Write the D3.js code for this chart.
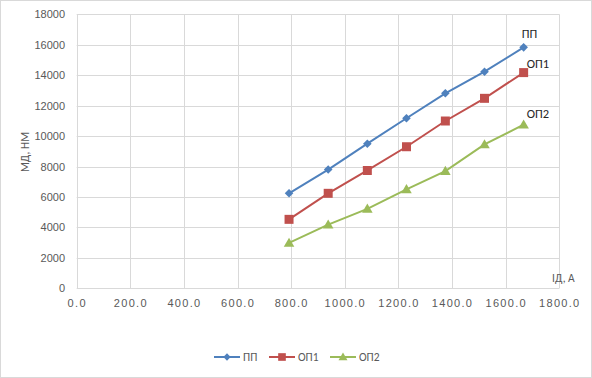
<!DOCTYPE html>
<html><head><meta charset="utf-8">
<script src="https://cdn.jsdelivr.net/npm/d3@7"></script>
<style>body{margin:0;background:#fff}svg{display:block;font-family:Calibri,"Liberation Sans","DejaVu Sans",sans-serif}</style>
</head><body>
<script>
const xValues = [792, 938, 1084, 1230, 1375, 1521, 1667];
const seriesNames = ["ПП", "ОП1", "ОП2"];
const ppValues = [6240, 7800, 9500, 11170, 12810, 14230, 15830];
const op1Values = [4530, 6240, 7740, 9300, 10990, 12480, 14170];
const op2Values = [2980, 4180, 5220, 6500, 7700, 9450, 10750];
const xTicks = [0, 200, 400, 600, 800, 1000, 1200, 1400, 1600, 1800];
const yTicks = [0, 2000, 4000, 6000, 8000, 10000, 12000, 14000, 16000, 18000];
const colors = ["#4F81BD", "#C0504D", "#9BBB59"];

const W = 592, H = 378;
const svg = d3.select("body").append("svg").attr("width", W).attr("height", H);
svg.append("rect").attr("x", 0.5).attr("y", 0.5).attr("width", W - 1).attr("height", H - 1)
  .attr("fill", "#fff").attr("stroke", "#D9D9D9");

const x = d3.scaleLinear().domain([0, 1800]).range([76.7, 559.3]);
const y = d3.scaleLinear().domain([0, 18000]).range([288.3, 14.3]);

// custom marker paths (half-size r)
function markerPath(si, r) {
  if (si === 0) return `M0,${-r}L${r},0L0,${r}L${-r},0Z`;
  if (si === 1) return `M${-r},${-r}H${r}V${r}H${-r}Z`;
  return `M0,${-r * 1.1}L${r * 1.1},${r * 0.8}L${-r * 1.1},${r * 0.8}Z`;
}
const mr = [4.3, 4.5, 4.8];

const g = svg.append("g");
g.selectAll(".vg").data(xTicks).join("line")
  .attr("x1", d => Math.round(x(d)) + 0.5).attr("x2", d => Math.round(x(d)) + 0.5)
  .attr("y1", y(18000)).attr("y2", y(0)).attr("stroke", "#D9D9D9");
g.selectAll(".hg").data(yTicks).join("line")
  .attr("y1", d => Math.round(y(d)) + 0.5).attr("y2", d => Math.round(y(d)) + 0.5)
  .attr("x1", x(0)).attr("x2", x(1800)).attr("stroke", "#D9D9D9");

const xAxis = d3.axisBottom(x).tickValues(xTicks).tickFormat(d => d3.format(".1f")(d)).tickSize(0).tickPadding(11);
const xa = svg.append("g").attr("transform", `translate(0,${y(0)})`).call(xAxis);
xa.select(".domain").remove();
xa.selectAll("text").attr("fill", "#595959").style("font-size", "11px").style("letter-spacing", "1.3px");

const yAxis = d3.axisLeft(y).tickValues(yTicks).tickFormat(d3.format("d")).tickSize(0).tickPadding(11.7);
const ya = svg.append("g").attr("transform", `translate(${x(0)},0)`).call(yAxis);
ya.select(".domain").remove();
ya.selectAll("text").attr("fill", "#595959").style("font-size", "11px");

svg.append("text").attr("transform", "translate(29,152) rotate(-90)").attr("text-anchor", "middle")
  .attr("fill", "#595959").style("font-size", "11.5px").text("МД, НМ");
svg.append("text").attr("x", 552).attr("y", 282).attr("fill", "#595959").style("font-size", "11.5px").text("ІД, А");

const allValues = [ppValues, op1Values, op2Values];
const line = d3.line().x((d, i) => x(xValues[i])).y(d => y(d));
allValues.forEach((vals, si) => {
  svg.append("path").datum(vals).attr("d", line).attr("fill", "none")
    .attr("stroke", colors[si]).attr("stroke-width", 2);
  svg.selectAll(".m" + si).data(vals).join("path")
    .attr("transform", (d, i) => `translate(${x(xValues[i])},${y(d)})`)
    .attr("d", markerPath(si, mr[si]))
    .attr("fill", colors[si]);
});

const labelOffsets = [[-2, -9], [3, -5], [3, -7]];
allValues.forEach((vals, si) => {
  const last = vals.length - 1;
  svg.append("text").attr("x", x(xValues[last]) + labelOffsets[si][0])
    .attr("y", y(vals[last]) + labelOffsets[si][1])
    .attr("fill", "#262626").style("font-size", "12.5px").text(seriesNames[si]);
});

const legX = [214, 269, 330];
seriesNames.forEach((name, si) => {
  const lg = svg.append("g").attr("transform", `translate(${legX[si]},357)`);
  lg.append("line").attr("x1", 0).attr("x2", 26).attr("stroke", colors[si]).attr("stroke-width", 2);
  lg.append("path").attr("transform", "translate(13,0)").attr("d", markerPath(si, mr[si] * 0.85)).attr("fill", colors[si]);
  lg.append("text").attr("x", 29).attr("y", 4).attr("fill", "#595959").style("font-size", "11.5px").text(name);
});
</script>
</body></html>
